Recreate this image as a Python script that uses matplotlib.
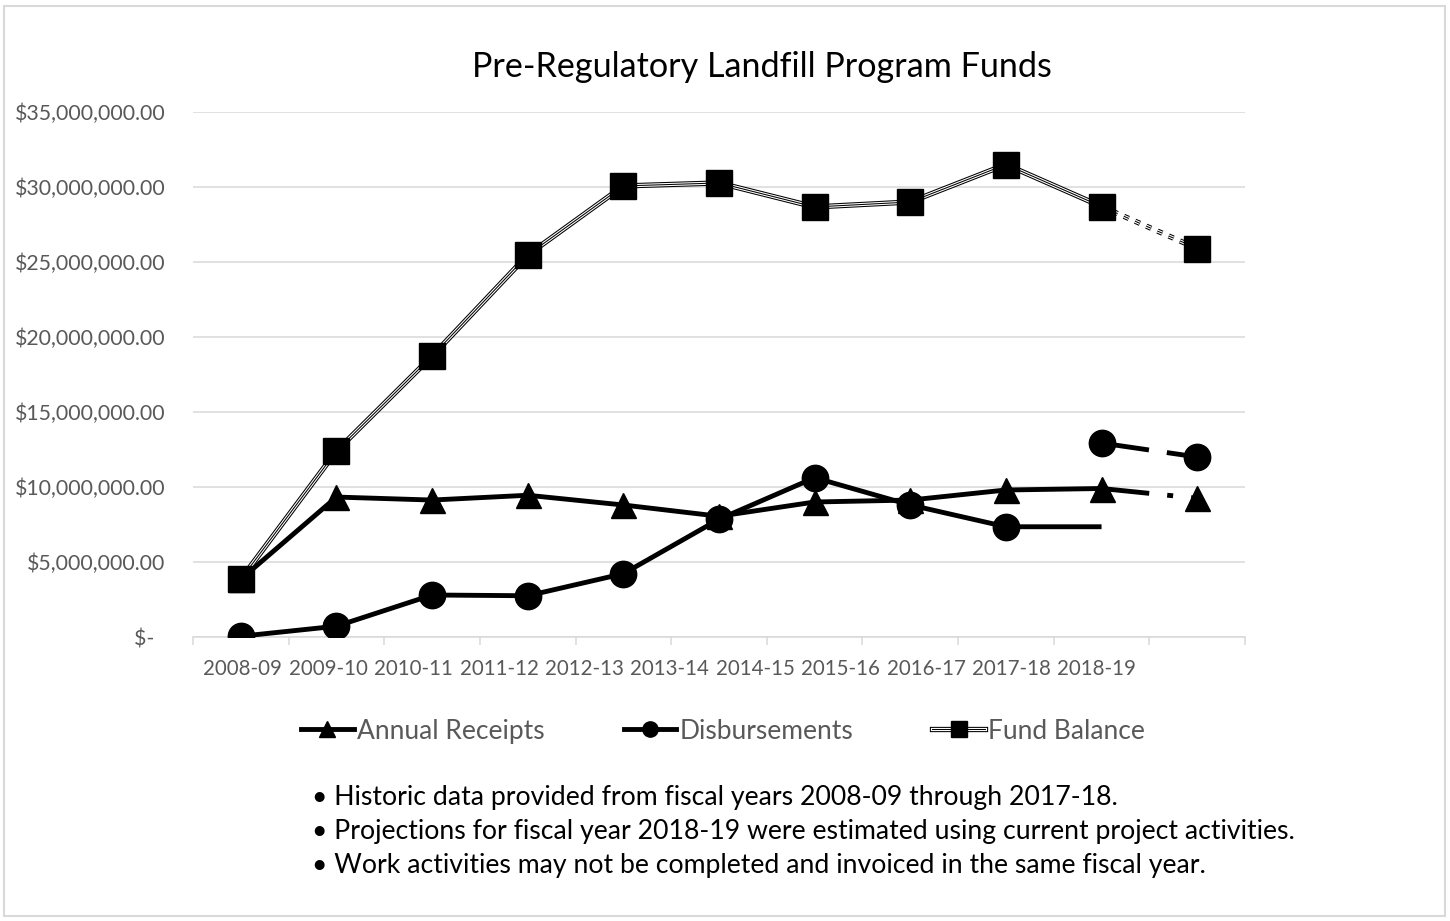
import matplotlib

matplotlib.use("Agg")
import matplotlib.pyplot as plt
import numpy as np
from matplotlib.lines import Line2D
from matplotlib.patches import Rectangle
from matplotlib.ticker import FixedFormatter, FixedLocator


FISCAL_YEARS = [
    "2008-09", "2009-10", "2010-11", "2011-12", "2012-13", "2013-14",
    "2014-15", "2015-16", "2016-17", "2017-18", "2018-19",
]

# values in millions of dollars
RECEIPTS = [3.85, 9.33, 9.13, 9.45, 8.80, 8.05, 9.00, 9.13, 9.80, 9.90]
RECEIPTS_PROJ = [9.90, 9.25]
DISBURSEMENTS = [0.05, 0.72, 2.80, 2.75, 4.22, 7.85, 10.62, 8.80, 7.35, 7.35]
DISBURSEMENTS_PROJ = [12.93, 12.00]
FUND_BALANCE = [3.85, 12.40, 18.73, 25.47, 30.07, 30.27, 28.67, 29.00, 31.50, 28.70]
FUND_BALANCE_PROJ = [28.70, 25.90]

Y_TICKS = [0, 5, 10, 15, 20, 25, 30, 35]

NOTES = [
    "\u2022 Historic data provided from fiscal years 2008-09 through 2017-18.",
    "\u2022 Projections for fiscal year 2018-19 were estimated using current project activities.",
    "\u2022 Work activities may not be completed and invoiced in the same fiscal year.",
]

GRID = "#d9d9d9"
LABEL = "#595959"
W, H = 1450, 921
LW = 3.5


def setup_style() -> None:
    plt.rcParams.update(
        {
            "font.family": ["Lato", "DejaVu Sans"],
            "lines.scale_dashes": False,
        }
    )


def triple_line(ax, x, y, dashes=None, z=5):
    for color, lw in (("black", 3.8), ("white", 2.3), ("black", 0.75)):
        kw = dict(color=color, lw=lw, solid_capstyle="butt", zorder=z)
        if dashes is not None:
            kw.update(dashes=dashes, dash_capstyle="butt")
        ax.plot(x, y, **kw)


def main() -> None:
    setup_style()
    fig = plt.figure(figsize=(W / 100, H / 100), dpi=100)
    ax = fig.add_axes([193 / W, 1 - 637 / H, (1245 - 193) / W, (637 - 112) / H])

    m = 1e6
    x_hist = np.arange(len(RECEIPTS))
    x_proj = np.arange(len(RECEIPTS) - 1, len(RECEIPTS) + 1)

    # Annual receipts
    ax.plot(x_hist, np.array(RECEIPTS) * m, color="black", lw=LW,
            marker="^", ms=18, zorder=3)
    ax.plot(x_proj, np.array(RECEIPTS_PROJ) * m, color="black", lw=LW,
            dashes=(34.5, 13, 4.3, 13), dash_capstyle="butt",
            marker="^", ms=18, markevery=[1], zorder=3)

    # Disbursements
    ax.plot(x_hist, np.array(DISBURSEMENTS) * m, color="black", lw=LW,
            marker="o", ms=19, markevery=list(range(len(DISBURSEMENTS) - 1)),
            solid_capstyle="butt", zorder=4)
    ax.plot(x_proj, np.array(DISBURSEMENTS_PROJ) * m, color="black", lw=LW,
            dashes=(34.5, 13), dash_capstyle="butt", marker="o", ms=19, zorder=4)

    # Fund balance
    triple_line(ax, x_hist, np.array(FUND_BALANCE) * m)
    triple_line(ax, x_proj, np.array(FUND_BALANCE_PROJ) * m, dashes=(3.8, 5.0))
    ax.plot(np.concatenate([x_hist, x_proj[1:]]),
            np.array(FUND_BALANCE + FUND_BALANCE_PROJ[1:]) * m,
            ls="none", marker="s", ms=18.5, color="black", zorder=6)

    ax.set_xlim(-0.5, len(RECEIPTS) + 0.5)
    ax.set_ylim(0, 35 * m)

    ytick_labels = [f"${v * m:,.2f}" if v else "$-  " for v in Y_TICKS]
    ax.yaxis.set_major_locator(FixedLocator([v * m for v in Y_TICKS]))
    ax.yaxis.set_major_formatter(FixedFormatter(ytick_labels))
    ax.tick_params(axis="y", length=0, pad=20, labelsize=15.3, labelcolor=LABEL)
    ax.grid(axis="y", color=GRID, lw=1.1)
    ax.set_axisbelow(True)

    bounds = np.arange(-0.5, len(RECEIPTS) + 1)
    label_pos = np.linspace(0.02, 8.95, len(FISCAL_YEARS))
    ax.xaxis.set_major_locator(FixedLocator(bounds))
    ax.xaxis.set_major_formatter(FixedFormatter([""] * len(bounds)))
    ax.xaxis.set_minor_locator(FixedLocator(label_pos))
    ax.xaxis.set_minor_formatter(FixedFormatter(FISCAL_YEARS))
    ax.tick_params(axis="x", which="major", length=6, width=1.1, color=GRID)
    ax.tick_params(axis="x", which="minor", length=0, pad=16, labelsize=14.8,
                   labelcolor=LABEL)

    for side in ("top", "right", "left"):
        ax.spines[side].set_visible(False)
    ax.spines["bottom"].set_color(GRID)
    ax.spines["bottom"].set_linewidth(1.1)

    fig.text(762 / W, 1 - 67 / H, "Pre-Regulatory Landfill Program Funds",
             ha="center", va="center", fontsize=24.6, color="black")

    handles = [
        Line2D([], [], color="black", lw=LW, marker="^", ms=12),
        Line2D([], [], color="black", lw=LW, marker="o", ms=11),
        (
            Line2D([], [], color="black", lw=3.8),
            Line2D([], [], color="white", lw=2.3),
            Line2D([], [], color="black", lw=0.75, marker="s", ms=11),
        ),
    ]
    fig.legend(
        handles,
        ["Annual Receipts", "Disbursements", "Fund Balance"],
        loc="center",
        bbox_to_anchor=(723 / W, 1 - 731 / H),
        ncol=3,
        frameon=False,
        fontsize=19,
        labelcolor=LABEL,
        handlelength=2.0,
        handletextpad=0.12,
        columnspacing=3.0,
    )

    for i, note in enumerate(NOTES):
        fig.text(312 / W, 1 - (797 + 34 * i) / H, note, ha="left", va="center",
                 fontsize=19.2, color="black")

    fig.patches.append(
        Rectangle((4 / W, 1 - 916 / H), 1441 / W, 910 / H, transform=fig.transFigure,
                  fill=False, edgecolor=GRID, lw=1.5)
    )

    fig.savefig("out.png", dpi=100)
    plt.close(fig)


if __name__ == "__main__":
    main()
